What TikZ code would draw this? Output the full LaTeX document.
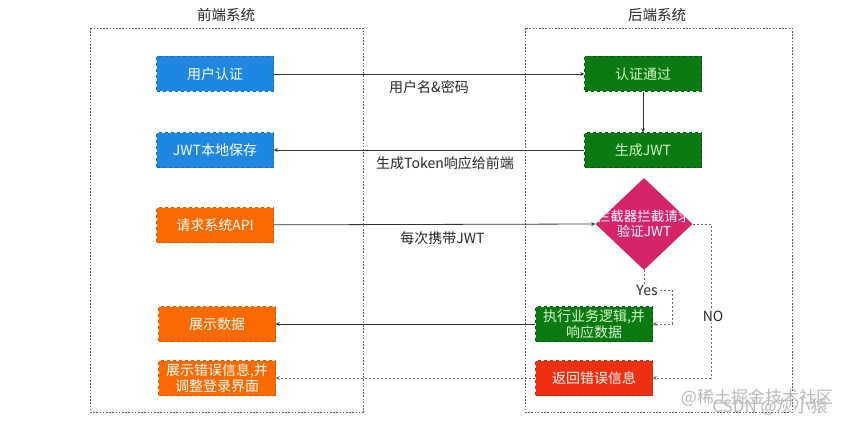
\documentclass[tikz,border=0pt]{standalone}
\usepackage{fontspec}
\setmainfont{Noto Sans CJK SC}
\usetikzlibrary{shapes.geometric}

\definecolor{feblue}{HTML}{1E87E0}
\definecolor{begreen}{HTML}{0B7A12}
\definecolor{greentext}{HTML}{D8F8C8}
\definecolor{feorange}{HTML}{FA6A00}
\definecolor{bered}{HTML}{EE3010}
\definecolor{checkpink}{HTML}{D6246A}

\begin{document}
\begin{tikzpicture}[x=1pt, y=-1pt, >=stealth,
    sysbox/.style = {draw=gray!75!black, dash pattern=on 1.6pt off 1.6pt, thick},
    systitle/.style = {font=\fontsize{14.5}{17}\selectfont, text=black!85},
    stepbox/.style = {minimum width=117pt, minimum height=35pt, inner sep=1pt, align=center,
                      dashed, font=\fontsize{14}{16}\selectfont},
    frontbox/.style = {stepbox, fill=feblue, draw=feblue!80!black, text=white},
    askbox/.style = {stepbox, fill=feorange, draw=feorange!85!black, text=white},
    okbox/.style = {stepbox, fill=begreen, draw=begreen!70!black, text=greentext},
    errbox/.style = {stepbox, fill=bered, draw=bered!85!black, text=white},
    flowlabel/.style = {font=\fontsize{14}{16}\selectfont, text=black!85},
    flow/.style = {->, thick, black!80},
    backflow/.style = {->, thick, gray!80!black, dash pattern=on 2pt off 2pt}]

    \useasboundingbox (0,0) rectangle (853,425);

    % the two systems
    \draw [sysbox] (90,28) rectangle (363,412);
    \node [systitle] (fetitle) at (226,15) {前端系统};
    \draw [sysbox] (525,28) rectangle (792,412);
    \node [systitle] (betitle) at (657,15) {后端系统};

    % front end steps
    \node [frontbox] (auth) at (215,74) {用户认证};
    \node [frontbox] (save) at (215,150) {JWT本地保存};
    \node [askbox] (ask) at (215,225) {请求系统API};
    \node [askbox] (show) at (217,324) {展示数据};
    \node [askbox] (errshow) at (217,378) {展示错误信息,并\\调整登录界面};

    % back end steps
    \node [okbox] (pass) at (643,74) {认证通过};
    \node [okbox] (makejwt) at (643,150) {生成JWT};
    \node [diamond, fill=checkpink, minimum width=97pt, minimum height=92pt, inner sep=0pt] (check) at (644,224) {};
    \node [text=white, align=center, font=\fontsize{13.5}{15.5}\selectfont] (checktext) at (check) {拦截器拦截请求\\验证JWT};
    \node [okbox] (busi) at (594,324) {执行业务逻辑,并\\响应数据};
    \node [errbox] (err) at (594,378) {返回错误信息};

    \coordinate (yesturn) at (672,290);
    \coordinate (noturn) at (711,224);

    % connectors
    \draw [flow] (auth) -- (pass) node [flowlabel, midway, below=3pt] {用户名\&密码};
    \draw [flow] (pass) -- (makejwt);
    \draw [flow] (makejwt) -- (save) node [flowlabel, midway, below=3pt, xshift=16pt] {生成Token响应给前端};
    \draw [flow] (ask) -- (check.west) node [flowlabel, midway, below=3pt, xshift=8pt] {每次携带JWT};
    \draw [backflow] (check.south) |- (yesturn) node [flowlabel, pos=0.5, fill=white, inner sep=1pt, xshift=3pt] {Yes}
        -- (yesturn |- busi) -- (busi.east);
    \draw [backflow] (check.east) -- (noturn) -- (noturn |- err) node [flowlabel, pos=0.6, fill=white, inner sep=1pt, xshift=2pt] {NO}
        -- (err.east);
    \draw [flow] (busi) -- (show);
    \draw [backflow] (err) -- (errshow);

    % watermark
    \node [text=gray!55, font=\fontsize{17}{19}\selectfont] (mark1) at (757,398) {@稀土掘金技术社区};
    \node [text=gray!55, font=\fontsize{17}{19}\selectfont] (mark2) at (770,407) {CSDN @灰小猿};
\end{tikzpicture}
\end{document}
